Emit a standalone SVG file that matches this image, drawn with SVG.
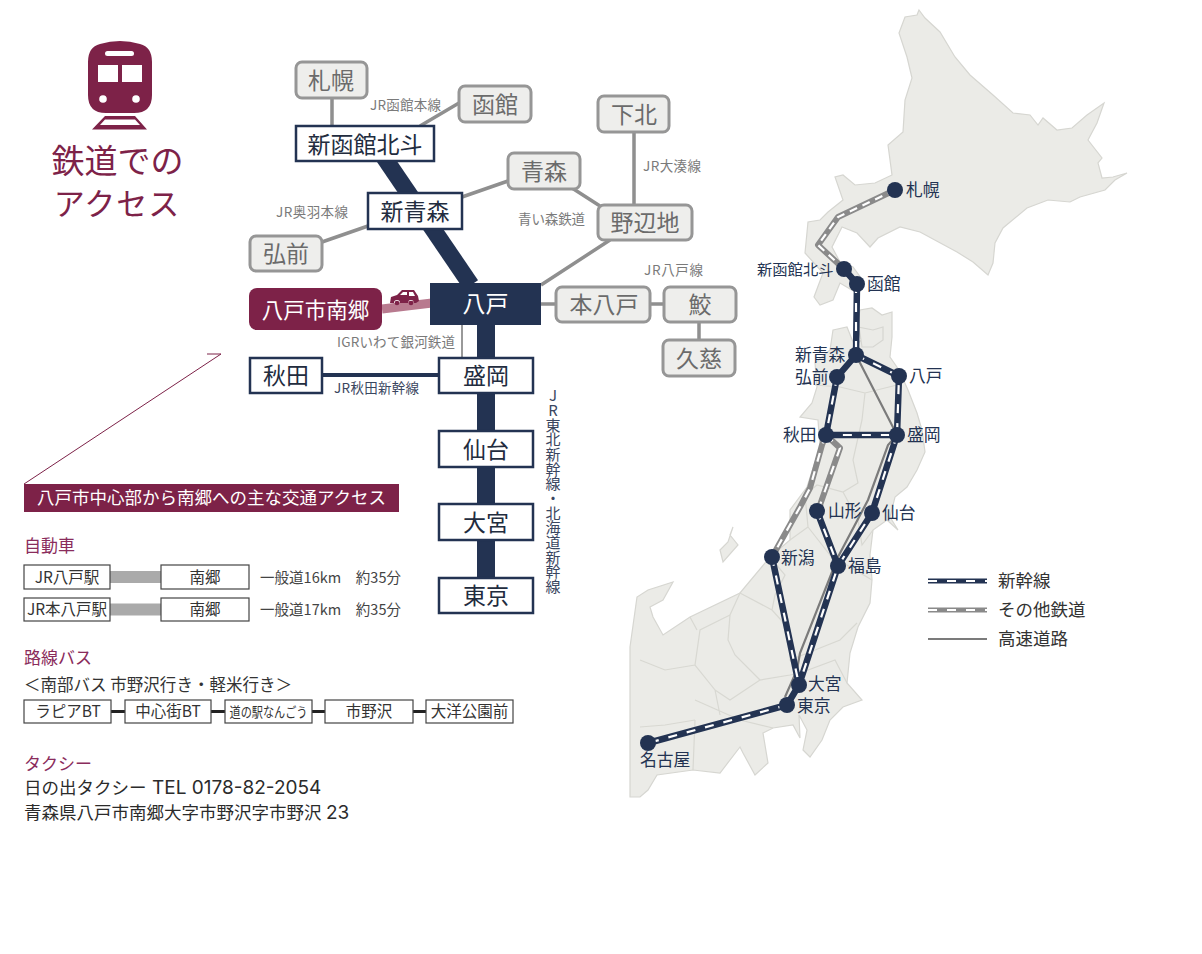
<svg xmlns="http://www.w3.org/2000/svg" width="1202" height="954" viewBox="0 0 1202 954">
<style>
text{font-family:"Noto Sans CJK JP","Noto Sans",sans-serif}
.g rect{fill:#eeeeec;stroke:#969696;stroke-width:3}
.g text{font-size:23px;fill:#6b6b6b;text-anchor:middle}
.n rect{fill:#fff;stroke:#233352;stroke-width:2.5}
.n text{font-size:23px;fill:#222c3e;text-anchor:middle}
.gl{stroke:#8f8f8f;stroke-width:3.5;fill:none}
.nl{stroke:#233352;fill:none}
.sm{font-size:13.500px;fill:#7a7a7a}
.land{fill:#ebebe7;stroke:#d6d6d1;stroke-width:1.2}
.bd{fill:none;stroke:#d8d8d2;stroke-width:1.2}
.s1{stroke:#233352;stroke-width:6.5;fill:none;stroke-linejoin:round}
.s2{stroke:#8a8a8a;stroke-width:6;fill:none;stroke-linejoin:round}
.d{stroke:#fff;stroke-width:2.2;fill:none;stroke-dasharray:9 10}
.hw{stroke:#7b7b7b;stroke-width:2.2;fill:none}
.st circle{fill:#233352}
.st text{font-size:16.800px;fill:#233352}
.box rect{fill:#fff;stroke:#444;stroke-width:1.2}
.box text{font-size:15.500px;fill:#333;text-anchor:middle}
.h{font-size:17px;fill:#8a2c5c}
.tt{font-size:14.500px;fill:#444}
.bk{font-size:17.500px;fill:#2b2b2b}
.lat{font-family:"Inter","Noto Sans",sans-serif;font-size:19px}
</style>

<g id="map">
<path class="land" d="M919 10L925 18L940 32L955 57L970 75L993 95L1013 113L1030 115L1038 125L1043 118L1057 130L1072 128L1087 115L1104 103L1097 123L1088 140L1102 158L1098 163L1102 178L1113 177L1127 173L1115 180L1105 190L1080 197L1070 202L1048 200L1027 208L1003 228L995 243L993 263L988 275L973 262L957 252L920 232L900 227L878 238L870 247L857 233L842 227L832 247L840 262L853 267L864 282L855 292L840 283L833 300L820 305L814 297L823 273L805 253L808 222L820 220L828 212L843 200L835 177L843 175L855 185L875 183L892 175L888 145L903 132L905 100L912 78L907 57L899 33L905 17L917 15Z"/>
<path class="land" d="M833 330L847 327L855 347L861 340L858 327L873 330L883 327L883 340L873 347L862 347L858 320L860 310L872 308L882 315L892 312L892 337L890 357L899 370L908 390L917 413L922 430L925 452L917 470L907 487L895 497L890 517L898 530L887 520L873 530L870 555L872 580L870 603L858 627L850 653L847 683L862 700L843 707L830 720L822 740L810 757L803 750L807 730L799 715L800 738L793 725L773 728L763 733L768 763L755 775L743 753L740 747L720 773L693 770L657 775L648 790L640 797L630 797L630 647L637 597L648 590L673 582L663 600L650 607L653 617L663 635L690 617L740 593L770 557L790 540L790 510L807 487L820 447L818 420L800 417L812 403L817 387L815 363L830 350Z"/>
<path class="land" d="M733 527L730 535L738 545L723 562L720 550L728 542Z"/>
<path class="bd" d="M815 385L840 387L865 393L897 385M865 393L862 420L853 460L858 483L843 492L817 485L805 495L808 527L790 540M843 492L858 520L862 545L873 530M808 527L830 555L872 580M770 557L785 575L775 595L772 610L790 630L790 660L800 673L835 660L847 683M772 610L740 593L730 615L728 640L735 655L760 680L790 675L800 673M790 660L840 640L857 623M730 615L700 630L695 665L715 690L720 715M695 665L665 670L640 660M690 617L697 630M695 700L740 720L773 728M760 680L730 700L715 690M695 720L693 770M640 727L665 725L695 720"/>
</g>

<g id="map-lines">
<path class="hw" d="M856 355L897 435L888 445L868 500L838 557L800 653L797 670L785 697"/>
<path class="s2" d="M895 190L838 217L818 245L844 269"/><path class="d" d="M895 190L838 217L818 245L844 269" style="stroke-dasharray:8 6"/>
<path class="s2" d="M826 435L822 445L810 488L800 507L772 557"/><path class="d" d="M826 435L822 445L810 488L800 507L772 557"/>
<path class="s2" d="M826 435L840 448L820 505L817 511"/><path class="d" d="M826 435L840 448L820 505L817 511"/>
<path class="s1" d="M844 269L857 284L856 355M837 377L856 355L899 376L897 435L826 435L837 377M897 435L872 513L838 566L799 685L787 705L648 743M817 511L838 566M772 557L799 685"/>
<path class="d" d="M856 284L856 355"/>
<path class="d" d="M856 355L899 376L897 435L826 435L837 377"/>
<path class="d" d="M897 435L872 513L838 566L799 685"/>
<path class="d" d="M817 511L838 566"/>
<path class="d" d="M772 557L799 685"/>
<path class="d" d="M787 705L648 743"/>
</g>

<g id="map-stations" class="st">
<circle cx="895" cy="190" r="8"/><text x="906" y="196">札幌</text>
<circle cx="844" cy="269" r="8"/><text x="757" y="275" style="font-size:15.300px">新函館北斗</text>
<circle cx="857" cy="284" r="8"/><text x="867" y="290">函館</text>
<circle cx="856" cy="355" r="8"/><text x="795" y="361">新青森</text>
<circle cx="837" cy="377" r="8"/><text x="795" y="383">弘前</text>
<circle cx="899" cy="376" r="8"/><text x="909" y="382">八戸</text>
<circle cx="826" cy="435" r="8"/><text x="783" y="441">秋田</text>
<circle cx="897" cy="435" r="8"/><text x="907" y="441">盛岡</text>
<circle cx="817" cy="511" r="8"/><text x="828" y="517">山形</text>
<circle cx="872" cy="513" r="8"/><text x="882" y="519">仙台</text>
<circle cx="772" cy="557" r="8"/><text x="781" y="564">新潟</text>
<circle cx="838" cy="566" r="8"/><text x="848" y="572">福島</text>
<circle cx="799" cy="685" r="8"/><text x="808" y="690">大宮</text>
<circle cx="787" cy="705" r="8"/><text x="797" y="712">東京</text>
<circle cx="648" cy="743" r="8"/><text x="640" y="766">名古屋</text>
</g>

<g id="legend">
<path class="s1" d="M928 581H987" style="stroke-width:5"/><path class="d" d="M928 581H987"/>
<path class="s2" d="M928 610H987" style="stroke-width:5"/><path class="d" d="M928 610H987"/>
<path class="hw" d="M928 639H987"/>
<text x="998" y="587" font-size="17.500" fill="#333">新幹線</text>
<text x="998" y="616" font-size="17.500" fill="#333">その他鉄道</text>
<text x="998" y="645" font-size="17.500" fill="#333">高速道路</text>
</g>

<g id="train-icon">
<path fill="#7d2248" d="M88 62Q88 47 100 44Q120 38 140 44Q152 47 152 62V95Q152 113 134 113H106Q88 113 88 95Z"/>
<rect x="105" y="51" width="29" height="5" rx="2.500" fill="#fff"/>
<rect x="98" y="65" width="20" height="17" fill="#fff"/>
<rect x="122" y="65" width="20" height="17" fill="#fff"/>
<circle cx="103" cy="99" r="3.800" fill="#fff"/>
<circle cx="136" cy="99" r="3.800" fill="#fff"/>
<path fill="#7d2248" fill-rule="evenodd" d="M105 116H135L147 129.500H92ZM105 119.500L100 125H140L135 119.500Z"/>
<text x="117.500" y="173" font-size="33" fill="#7d2248" text-anchor="middle">鉄道での</text>
<text x="117" y="215" font-size="31" fill="#7d2248" text-anchor="middle" letter-spacing="1">アクセス</text>
</g>

<g id="connectors">
<path class="nl" d="M382.500 155L471 285" stroke-width="17"/>
<path class="nl" d="M486 320V590" stroke-width="18"/>
<path class="nl" d="M322 375H439" stroke-width="4"/>
<path class="gl" d="M332 98V126M459 103L420 126M508 181L462 197M322 242L368 226M572 188L600 206M610 240L541 285M634 132V205M541 304H556M650 304H664M699 322V340"/>
<path d="M462 325V358" stroke="#999" stroke-width="2" fill="none"/>
<path d="M382 309L432 303" stroke="#b87a8f" stroke-width="9" fill="none"/>
<path d="M24 484L221 354L207 354" stroke="#7d2248" stroke-width="1" fill="none"/>
<path d="M110 577H161M110 609.500H161" stroke="#aaa" stroke-width="12" fill="none"/>
<path d="M111 711.500H125M211 711.500H225M312 711.500H325M413 711.500H426" stroke="#222" stroke-width="3" fill="none"/>
</g>

<g id="n-sapporo" class="g"><rect x="296" y="62" width="71" height="36" rx="6"/><text x="331" y="89">札幌</text></g>
<g id="n-hakodate" class="g"><rect x="459" y="86" width="72" height="36" rx="6"/><text x="495" y="113">函館</text></g>
<g id="n-shimokita" class="g"><rect x="598" y="96" width="71" height="36" rx="6"/><text x="634" y="123">下北</text></g>
<g id="n-aomori" class="g"><rect x="508" y="153" width="72" height="36" rx="6"/><text x="544" y="180">青森</text></g>
<g id="n-noheji" class="g"><rect x="598" y="205" width="94" height="35" rx="6"/><text x="645" y="231">野辺地</text></g>
<g id="n-hirosaki" class="g"><rect x="250" y="236" width="72" height="35" rx="6"/><text x="286" y="262">弘前</text></g>
<g id="n-honhachinohe" class="g"><rect x="556" y="287" width="94" height="35" rx="6"/><text x="604" y="313">本八戸</text></g>
<g id="n-same" class="g"><rect x="664" y="287" width="72" height="35" rx="6"/><text x="700" y="313">鮫</text></g>
<g id="n-kuji" class="g"><rect x="663" y="340" width="72" height="36" rx="6"/><text x="699" y="367">久慈</text></g>

<g id="n-shinhakodate" class="n"><rect x="296" y="126" width="138" height="35"/><text x="365" y="153">新函館北斗</text></g>
<g id="n-shinaomori" class="n"><rect x="368" y="193" width="94" height="36"/><text x="415" y="220">新青森</text></g>
<g id="n-hachinohe"><rect x="430" y="283" width="111" height="42" fill="#233352"/><text x="485.500" y="312" font-size="23" fill="#fff" text-anchor="middle">八戸</text></g>
<g id="n-nango"><rect x="249" y="288" width="133" height="42" rx="8" fill="#7d2248"/><text x="315.500" y="318" font-size="21.500" fill="#fff" text-anchor="middle">八戸市南郷</text></g>
<g id="n-akita" class="n"><rect x="250" y="358" width="72" height="35"/><text x="286" y="384">秋田</text></g>
<g id="n-morioka" class="n"><rect x="439" y="358" width="94" height="35"/><text x="486" y="384">盛岡</text></g>
<g id="n-sendai" class="n"><rect x="439" y="431" width="94" height="36"/><text x="486" y="458">仙台</text></g>
<g id="n-omiya" class="n"><rect x="439" y="504" width="94" height="36"/><text x="486" y="531">大宮</text></g>
<g id="n-tokyo" class="n"><rect x="439" y="578" width="94" height="35"/><text x="486" y="604">東京</text></g>

<g id="car"><path fill="#7d2248" d="M390 303L391 297L397 295L402 290H414L418 296L419 301L416 303H414A3 3 0 0 0 408 303H400A3 3 0 0 0 394 303Z"/><circle cx="397" cy="303" r="2.300" fill="#7d2248"/><circle cx="411" cy="303" r="2.300" fill="#7d2248"/><path fill="#fff" d="M400 295L403 292H407V295ZM409 292H413L415 296H409Z"/></g>

<g id="line-labels">
<text class="sm" x="370" y="110" textLength="71">JR函館本線</text>
<text class="sm" x="276" y="217" textLength="72">JR奥羽本線</text>
<text class="sm" x="518" y="224" textLength="67">青い森鉄道</text>
<text class="sm" x="643" y="171" textLength="58">JR大湊線</text>
<text class="sm" x="644" y="275" textLength="59">JR八戸線</text>
<text class="sm" x="337" y="347" textLength="118">IGRいわて銀河鉄道</text>
<text class="sm" x="334" y="393" style="fill:#3a4660" textLength="85">JR秋田新幹線</text>
<text x="553" y="388" font-size="15" fill="#3a4660" style="writing-mode:vertical-rl;text-orientation:upright" textLength="206">JR東北新幹線・北海道新幹線</text>
</g>

<g id="access">
<rect x="24" y="484" width="375" height="28" fill="#7d2248"/>
<text x="37" y="504" font-size="17.500" fill="#fff">八戸市中心部から南郷への主な交通アクセス</text>
<text class="h" x="24" y="552">自動車</text>
<g class="box"><rect x="24" y="565" width="86" height="24"/><text x="67" y="583">JR八戸駅</text></g>
<g class="box"><rect x="161" y="565" width="88" height="24"/><text x="205" y="583">南郷</text></g>
<g class="box"><rect x="24" y="598" width="86" height="23"/><text x="67" y="615">JR本八戸駅</text></g>
<g class="box"><rect x="161" y="598" width="88" height="23"/><text x="205" y="615">南郷</text></g>
<text class="tt" x="260" y="583" textLength="141">一般道16km　約35分</text>
<text class="tt" x="260" y="615" textLength="141">一般道17km　約35分</text>
<text class="h" x="24" y="664">路線バス</text>
<text x="24" y="691" font-size="16.500" fill="#333" textLength="268">＜南部バス 市野沢行き・軽米行き＞</text>
<g class="box"><rect x="24" y="700" width="87" height="23"/><text x="68" y="717">ラピアBT</text></g>
<g class="box"><rect x="125" y="700" width="86" height="23"/><text x="168" y="717">中心街BT</text></g>
<g class="box"><rect x="225" y="700" width="87" height="23"/><text x="268.500" y="717" style="font-size:14px" textLength="78" lengthAdjust="spacingAndGlyphs">道の駅なんごう</text></g>
<g class="box"><rect x="325" y="700" width="88" height="23"/><text x="369" y="717">市野沢</text></g>
<g class="box"><rect x="426" y="700" width="87" height="23"/><text x="469.500" y="717">大洋公園前</text></g>
<text class="h" x="24" y="770">タクシー</text>
<text class="bk" x="24" y="794">日の出タクシー <tspan class="lat" x="152">TEL 0178-82-2054</tspan></text>
<text class="bk" x="24" y="819">青森県八戸市南郷大字市野沢字市野沢 <tspan class="lat" x="326">23</tspan></text>
</g>
</svg>
